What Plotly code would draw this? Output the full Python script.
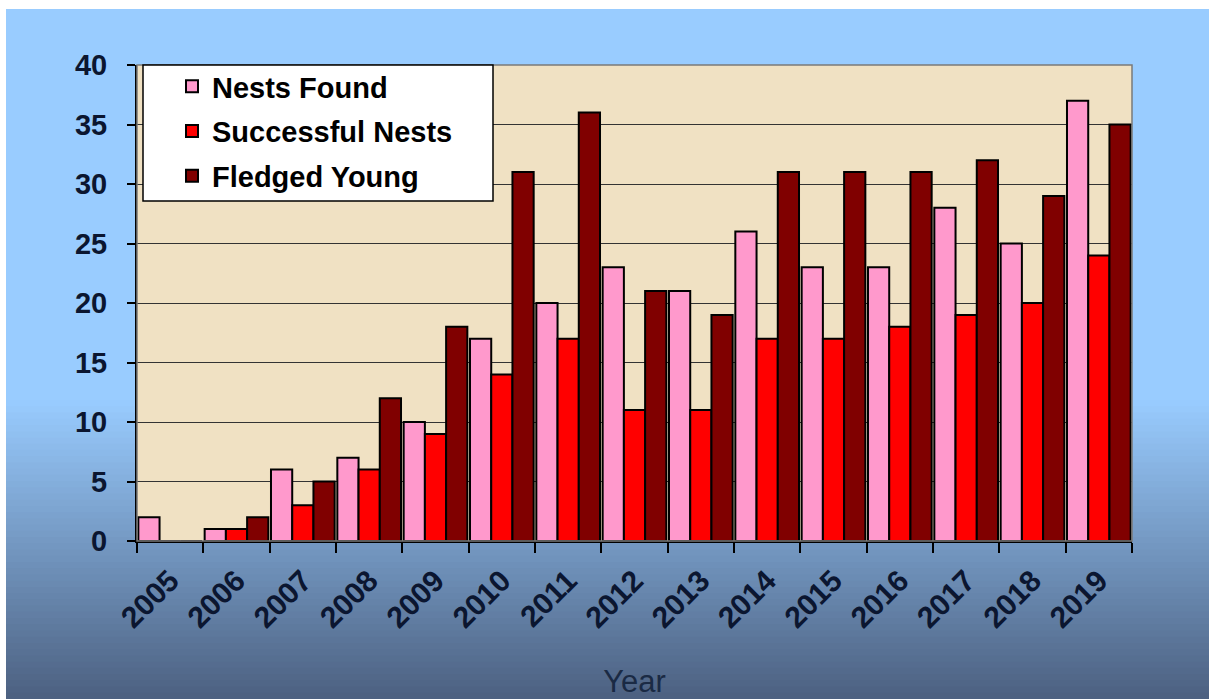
import plotly.graph_objects as go

years = ["2005", "2006", "2007", "2008", "2009", "2010", "2011", "2012",
         "2013", "2014", "2015", "2016", "2017", "2018", "2019"]
nests_found = [2, 1, 6, 7, 10, 17, 20, 23, 21, 26, 23, 23, 28, 25, 37]
successful_nests = [0, 1, 3, 6, 9, 14, 17, 11, 11, 17, 17, 18, 19, 20, 24]
fledged_young = [0, 2, 5, 12, 18, 31, 36, 21, 19, 31, 31, 31, 32, 29, 35]

W, H = 1209, 699
L, R, T, B = 137, 77, 65, 158
pw, ph = W - L - R, H - T - B

def px_x(x):
    return (x - L) / pw

def px_y(y):
    return (H - B - y) / ph

FONT = "Arial, Liberation Sans, sans-serif"
TXT = "#0b1630"

fig = go.Figure()
series = [
    ("Nests Found", nests_found, "#FF99CC"),
    ("Successful Nests", successful_nests, "#FF0000"),
    ("Fledged Young", fledged_young, "#800000"),
]
for name, vals, col in series:
    fig.add_trace(go.Bar(
        x=years, y=vals, name=name, legendgroup=name,
        marker=dict(color=col, line=dict(color="black", width=2)),
    ))

shapes = []
# background gradient (blue)
top_c = (0x99, 0xCC, 0xFF)
bot_c = (0x4C, 0x60, 0x80)
g_start, g_end = 400, H
N = 48
shapes.append(dict(type="rect", xref="paper", yref="paper", layer="below",
                   x0=px_x(6), x1=px_x(W + 5), y0=px_y(g_start + 2), y1=px_y(9),
                   fillcolor="rgb(153,204,255)", line=dict(width=0)))
for i in range(N):
    y0 = g_start + (g_end - g_start) * i / N
    y1 = g_start + (g_end - g_start) * (i + 1) / N
    t = (i + 0.5) / N
    c = tuple(int(round(top_c[k] + (bot_c[k] - top_c[k]) * t)) for k in range(3))
    shapes.append(dict(type="rect", xref="paper", yref="paper", layer="below",
                       x0=px_x(6), x1=px_x(W + 5), y0=px_y(y1 + 3), y1=px_y(y0),
                       fillcolor="rgb(%d,%d,%d)" % c, line=dict(width=0)))
# sandy plot area
shapes.append(dict(type="rect", xref="paper", yref="paper", layer="below",
                   x0=0, x1=1, y0=0, y1=1, fillcolor="#F0E1C3", line=dict(width=0)))
# plot area border (gray top/right)
shapes.append(dict(type="rect", xref="paper", yref="paper", layer="above",
                   x0=0, x1=1, y0=0, y1=1, line=dict(color="#7a7a7a", width=1.5)))
# legend box
shapes.append(dict(type="rect", xref="paper", yref="paper", layer="above",
                   x0=px_x(143), x1=px_x(493), y0=px_y(201), y1=1,
                   fillcolor="white", line=dict(color="black", width=1.5)))

fig.update_layout(
    width=W, height=H,
    margin=dict(l=L, r=R, t=T, b=B, pad=0, autoexpand=False),
    paper_bgcolor="white",
    plot_bgcolor="#F0E1C3",
    barmode="group", bargap=0.04, bargroupgap=0,
    shapes=shapes,
    showlegend=True,
    legend=dict(x=px_x(172), y=px_y(61), xanchor="left", yanchor="top",
                bgcolor="rgba(0,0,0,0)", borderwidth=0,
                font=dict(family=FONT, size=29, color="black", weight="bold"),
                tracegroupgap=4, traceorder="grouped"),
    font=dict(family=FONT, color=TXT),
)
fig.update_xaxes(
    type="category", tickson="boundaries", ticks="outside", ticklen=10,
    tickcolor="black", tickwidth=1.5, showline=True, linecolor="black", linewidth=2,
    tickangle=-45, showgrid=False, ticklabelstandoff=8, automargin=False,
    tickfont=dict(family=FONT, size=30, color=TXT, weight="bold"),
    title=dict(text="Year", font=dict(family=FONT, size=31, color="#1a2a44"), standoff=38),
)
fig.update_yaxes(
    range=[0, 40], dtick=5, ticks="outside", ticklen=8, tickcolor="black",
    tickwidth=1.5, showline=True, linecolor="black", linewidth=2,
    showgrid=True, gridcolor="#333333", gridwidth=1, zeroline=False,
    ticklabelstandoff=14, automargin=False,
    tickfont=dict(family=FONT, size=29, color=TXT, weight="bold"),
)

fig.write_html("out.html")
